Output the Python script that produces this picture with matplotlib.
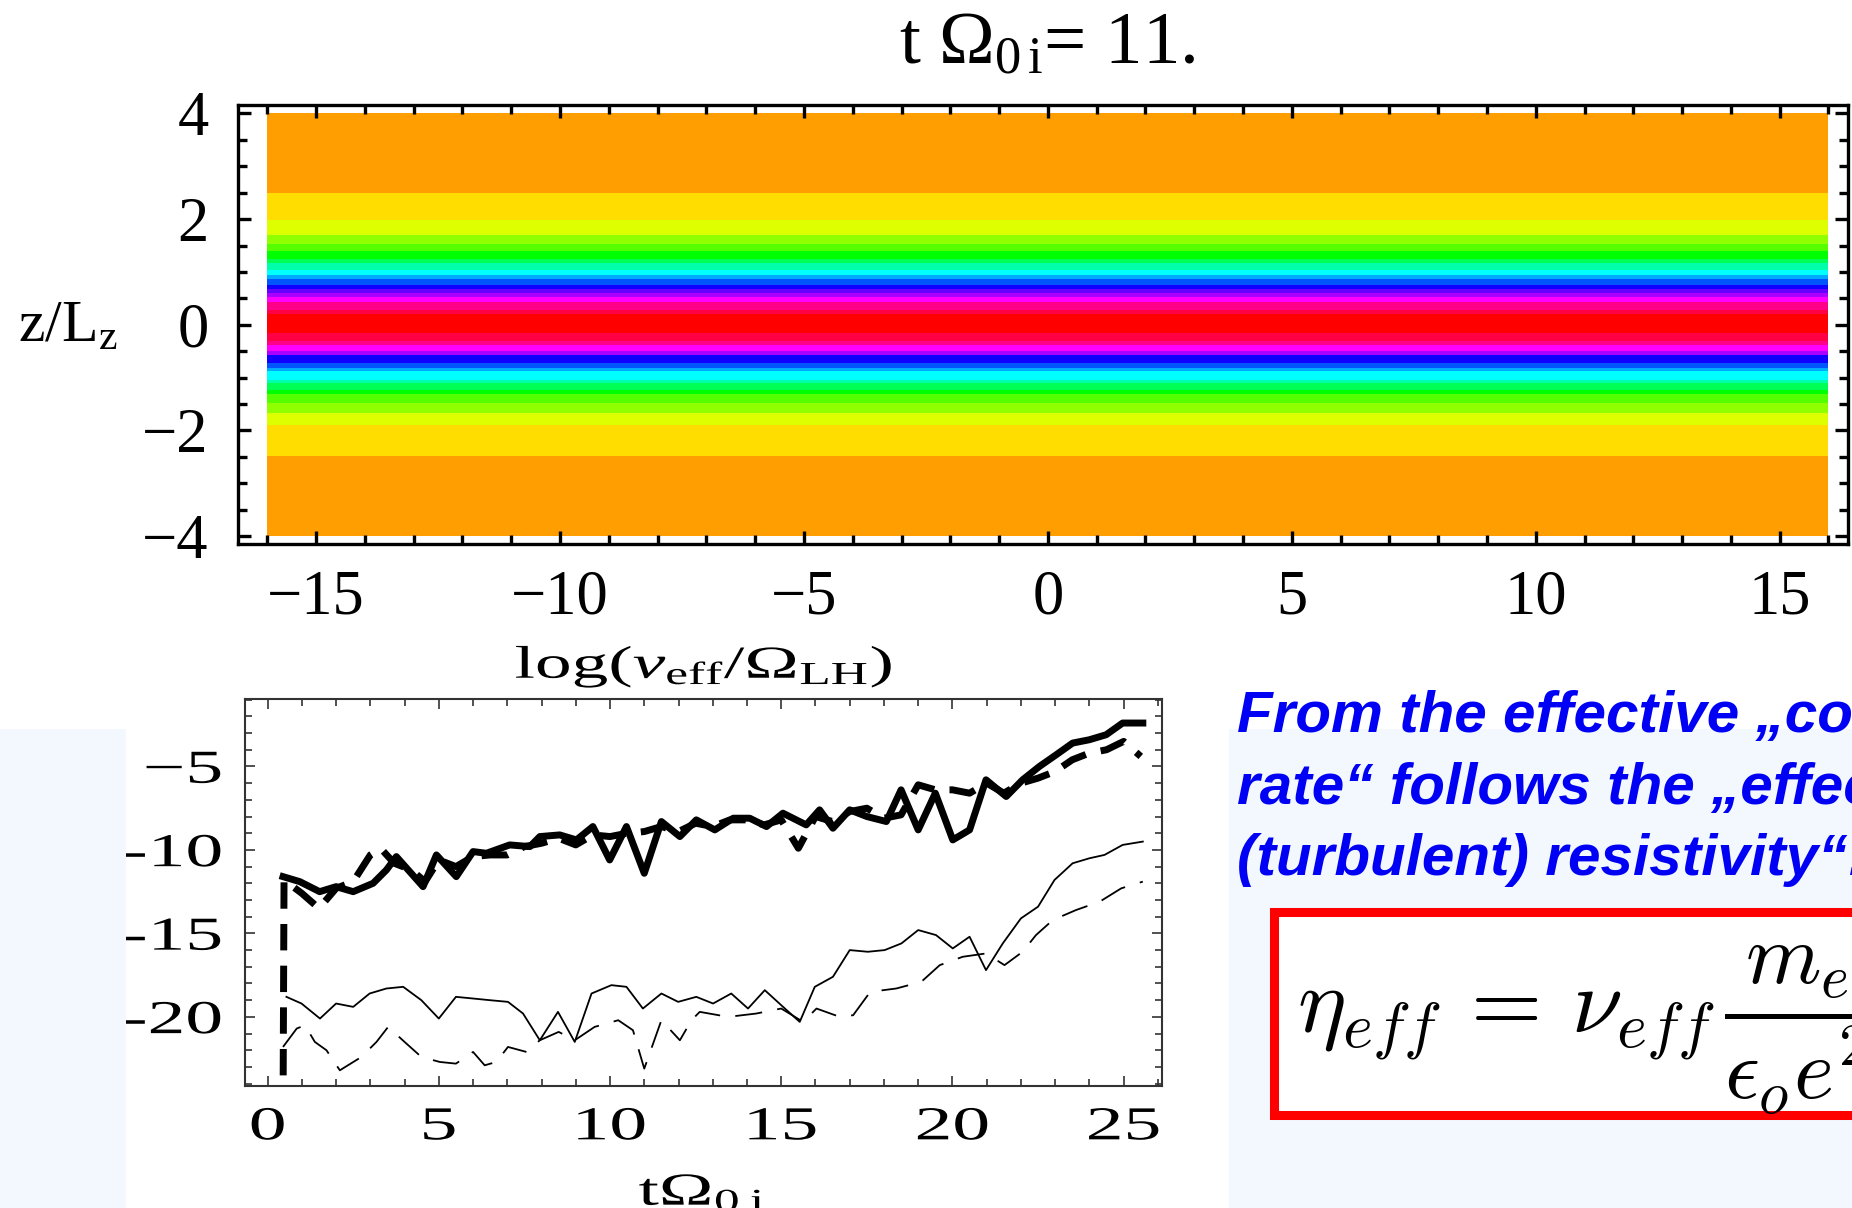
import matplotlib
matplotlib.use("Agg")
import matplotlib.pyplot as plt
import matplotlib.patheffects as pe
import numpy as np
from matplotlib.colors import ListedColormap
from matplotlib.patches import Rectangle
from matplotlib.path import Path
from matplotlib.transforms import Affine2D
from matplotlib.ticker import MultipleLocator

W, H = 1852, 1208

# top panel: z/L_z edges of the colour bands (bottom -> top) and their colours
band_edges = [-4.0, -2.49, -1.89, -1.67, -1.48, -1.32, -1.23, -1.10, -1.04, -0.88,
              -0.81, -0.72, -0.58, -0.50, -0.38, -0.31, -0.16, 0.21, 0.28, 0.44,
              0.52, 0.60, 0.67, 0.76, 0.87, 0.94, 1.04, 1.17, 1.25, 1.40,
              1.53, 1.69, 1.98, 2.50, 4.0]
band_colors = ["#FF9E00", "#FFDD00", "#DDFF00", "#90FF00", "#55FF00", "#00FF00",
               "#00FF55", "#00FFAA", "#00FFFF", "#00AAFF", "#0055FF", "#1100FF",
               "#AA00FF", "#FF00FF", "#FF0088", "#FF0044", "#FF0000", "#FF0044",
               "#FF0088", "#FF00FF", "#AA00FF", "#6600FF", "#1100FF", "#0055FF",
               "#00AAFF", "#00FFFF", "#00FFAA", "#00FF55", "#00FF00", "#55FF00",
               "#90FF00", "#DDFF00", "#FFDD00", "#FF9E00"]
log_range = [-16, 16]

# bottom panel: log(nu_eff / Omega_LH) versus t Omega_0i
thick_solid_t = [0.45, 0.94, 1.52, 2.0, 2.5, 3.08, 3.47, 3.76, 4.15, 4.54, 4.93, 5.51,
                 6.0, 6.39, 7.07, 7.66, 7.95, 8.53, 9.02, 9.5, 9.99, 10.48, 11.0, 11.5,
                 12.04, 12.52, 13.06, 13.6, 14.08, 14.57, 15.05, 15.73, 16.12, 16.51,
                 17.0, 17.5, 18.07, 18.5, 19.0, 19.5, 20.01, 20.5, 20.98, 21.57, 22.05,
                 22.54, 23.03, 23.51, 24.0, 24.49, 24.97, 25.56]
thick_solid_v = [-11.6, -11.9, -12.5, -12.2, -12.5, -12.0, -11.2, -10.4, -11.3, -12.2, -10.3, -11.6,
                 -10.1, -10.2, -9.7, -9.8, -9.2, -9.1, -9.4, -8.6, -10.6, -8.6, -11.4, -8.3,
                 -9.2, -8.2, -8.8, -8.1, -8.1, -8.6, -7.8, -8.5, -7.6, -8.7,
                 -7.6, -8.0, -8.3, -6.4, -8.8, -6.6, -9.4, -8.8, -5.8, -6.8, -5.8,
                 -5.0, -4.3, -3.6, -3.4, -3.1, -2.4, -2.4]

thick_dash_t = [0.45, 0.48, 1.0, 1.5, 2.0, 2.5, 3.0, 3.3, 3.7, 4.2, 4.6, 5.0, 5.5, 6.0,
                6.5, 7.0, 7.5, 8.0, 8.5, 9.0, 9.5, 10.0, 10.5, 11.0, 11.5, 12.0, 12.5,
                13.0, 13.5, 14.0, 14.5, 15.0, 15.5, 16.0, 16.5, 17.0, 17.5, 18.0, 18.5,
                19.0, 19.5, 20.0, 20.5, 21.0, 21.5, 22.0, 22.5, 23.0, 23.5, 24.0, 24.5,
                25.0, 25.5]
thick_dash_v = [-26.0, -11.8, -12.6, -13.5, -12.3, -11.9, -10.3, -9.9, -10.8, -11.2, -11.9, -10.6, -11.0, -10.4,
                -10.3, -10.3, -9.8, -9.6, -9.3, -9.7, -9.1, -9.2, -9.0, -8.9, -8.6, -8.9, -8.4,
                -8.6, -8.2, -8.2, -8.5, -8.2, -9.9, -8.0, -8.3, -7.7, -7.5, -8.1, -7.9,
                -6.1, -6.4, -6.4, -6.6, -6.0, -6.6, -6.0, -5.7, -5.3, -4.6, -4.2, -4.0,
                -3.5, -4.4]

thin_solid_t = [0.55, 0.99, 1.53, 2.0, 2.5, 2.98, 3.47, 3.96, 4.49, 5.0, 5.5, 6.0, 6.49,
                7.02, 7.46, 7.95, 8.48, 8.97, 9.46, 10.04, 10.48, 10.96, 11.5, 11.99, 12.52,
                13.01, 13.54, 14.03, 14.52, 15.0, 15.54, 15.98, 16.51, 17.0, 17.53, 18.02,
                18.51, 19.0, 19.52, 20.01, 20.5, 20.98, 21.47, 22.0, 22.5, 22.98, 23.51,
                24.0, 24.44, 24.97, 25.56]
thin_solid_v = [-18.8, -19.2, -20.1, -19.2, -19.4, -18.6, -18.3, -18.2, -19.0, -20.1, -18.8, -18.9, -19.0,
                -19.1, -19.8, -21.4, -19.7, -21.5, -18.6, -18.1, -18.2, -19.5, -18.6, -19.1, -18.8,
                -19.2, -18.6, -19.5, -18.4, -19.3, -20.3, -18.2, -17.6, -16.0, -16.1, -16.0,
                -15.6, -14.8, -15.1, -15.9, -15.2, -17.2, -15.6, -14.1, -13.4, -11.8, -10.8,
                -10.5, -10.3, -9.7, -9.5]

thin_dash_t = [0.45, 0.85, 1.09, 1.38, 1.72, 2.11, 2.74, 3.18, 3.52, 4.0, 4.49, 5.03, 5.5,
               6.0, 6.34, 6.68, 7.02, 7.56, 7.95, 8.5, 8.97, 9.55, 10.24, 10.67, 11.0, 11.5,
               12.04, 12.38, 12.62, 13.45, 14.27, 15.0, 15.64, 16.03, 16.71, 17.1, 17.6,
               18.36, 19.09, 19.63, 20.3, 20.98, 21.52, 22.05, 22.44, 22.93, 23.61, 24.3,
               24.93, 25.56]
thin_dash_v = [-21.8, -20.7, -20.5, -21.5, -22.0, -23.2, -22.4, -21.5, -20.6, -21.5, -22.4, -22.7, -22.8,
               -22.1, -22.9, -22.7, -21.8, -22.1, -21.4, -20.9, -21.4, -20.6, -20.2, -20.8, -23.1, -20.2,
               -21.4, -20.2, -19.7, -20.0, -19.8, -19.5, -20.3, -19.5, -20.0, -19.9, -18.5,
               -18.3, -17.9, -16.9, -16.4, -16.2, -16.9, -16.1, -15.1, -14.2, -13.6, -13.1,
               -12.3, -11.9]

t_ticks = [0, 5, 10, 15, 20, 25]
v_ticks = [-20, -15, -10, -5]
v_labels = ["-20", "-15", "-10", "\u22125"]

text_lines = ["From the effective \u201ecollision",
              "rate\u201c follows the \u201eeffective",
              "(turbulent) resistivity\u201c:"]


class HStretch(pe.AbstractPathEffect):
    # the lower graphic of the slide is a horizontally stretched bitmap
    def __init__(self, sx, anchor="center"):
        super().__init__()
        self.sx = sx
        self.anchor = anchor

    def draw_path(self, renderer, gc, tpath, affine, rgbFace=None):
        verts = tpath.vertices
        if tpath.codes is not None:
            verts = verts[tpath.codes != Path.CLOSEPOLY]
        xs = affine.transform(verts)[:, 0]
        if self.anchor == "right":
            x0 = xs.max()
        elif self.anchor == "left":
            x0 = xs.min()
        else:
            x0 = 0.5 * (xs.min() + xs.max())
        st = affine + Affine2D().translate(-x0, 0).scale(self.sx, 1).translate(x0, 0)
        renderer.draw_path(gc, tpath, st, rgbFace)


def fx(x):
    return x / W


def fy(y):
    return 1 - y / H


plt.rcParams['font.family'] = ['Liberation Serif', 'DejaVu Serif']
plt.rcParams['mathtext.fontset'] = 'custom'
plt.rcParams['mathtext.rm'] = 'Liberation Serif'
plt.rcParams['mathtext.it'] = 'Liberation Serif:italic'
plt.rcParams['mathtext.bf'] = 'Liberation Serif:bold'

fig = plt.figure(figsize=(W / 100, H / 100), dpi=100)
fig.patch.set_facecolor('white')

# light blue slide background behind the pictures
fig.patches.append(Rectangle((0, 0), fx(126), fy(729), transform=fig.transFigure,
                             fc='#F2F8FE', ec='none', zorder=0))
fig.patches.append(Rectangle((fx(1229), 0), 1, fy(729), transform=fig.transFigure,
                             fc='#F2F8FE', ec='none', zorder=0))

# ---------- top density plot ----------
ax1 = fig.add_axes([fx(238), fy(544), fx(1848) - fx(238), fy(105) - fy(544)])
C = np.arange(len(band_colors)).reshape(-1, 1)
ax1.pcolormesh(log_range, band_edges, C, cmap=ListedColormap(band_colors),
               vmin=-0.5, vmax=len(band_colors) - 0.5, shading='flat')
ax1.set_xlim(-16.6, 16.4)
ax1.set_ylim(-4.15, 4.16)
ax1.set_xticks([-15, -10, -5, 0, 5, 10, 15])
ax1.set_yticks([-4, -2, 0, 2, 4])
ax1.xaxis.set_minor_locator(MultipleLocator(1))
ax1.yaxis.set_minor_locator(MultipleLocator(0.5))
ax1.tick_params(which='both', direction='in', top=True, right=True, width=2.4, labelsize=45)
ax1.tick_params(which='major', length=9.5)
ax1.tick_params(which='minor', length=6.5)
ax1.tick_params(axis='x', pad=18)
ax1.tick_params(axis='y', pad=21)
for s in ax1.spines.values():
    s.set_linewidth(2.4)

fig.text(fx(1047), fy(63), r"t $\Omega_{0\,\mathrm{i}}$= 11.", fontsize=54,
         ha='center', va='baseline')
fig.text(fx(68), fy(342), r"z/L$_{\mathrm{z}}$", fontsize=43, ha='center', va='baseline')

# ---------- bottom line plot ----------
stretch_c = [HStretch(1.6, "center")]
ax2 = fig.add_axes([fx(245), fy(1086), fx(1162) - fx(245), fy(699) - fy(1086)])
ax2.plot(thick_solid_t, thick_solid_v, color='black', lw=5, solid_joinstyle='round')
ax2.plot(thick_dash_t, thick_dash_v, color='black', lw=5, dashes=(3.8, 2.2))
ax2.plot(thin_solid_t, thin_solid_v, color='black', lw=1.3)
ax2.plot(thin_dash_t, thin_dash_v, color='black', lw=1.3, dashes=(15, 8.5))
ax2.set_xlim(-0.66, 26.12)
ax2.set_ylim(-24.14, -0.96)
ax2.xaxis.set_minor_locator(MultipleLocator(1))
ax2.yaxis.set_minor_locator(MultipleLocator(1))
ax2.tick_params(which='both', direction='in', top=True, right=True, width=1.2,
                color='#333333', labelsize=34)
ax2.tick_params(which='major', length=7.5)
ax2.tick_params(which='minor', length=5)
ax2.tick_params(axis='x', pad=15)
ax2.tick_params(axis='y', pad=16.5)
ax2.set_xticks(t_ticks)
ax2.set_xticklabels([str(t) for t in t_ticks], path_effects=stretch_c)
ax2.set_yticks(v_ticks)
ax2.set_yticklabels(v_labels, path_effects=[HStretch(1.6, "right")])
for s in ax2.spines.values():
    s.set_linewidth(1.5)
    s.set_color('#333333')

fig.text(fx(704), fy(678), r"log($\nu_{\mathrm{eff}}/\Omega_{\mathrm{LH}}$)", fontsize=33,
         ha='center', va='baseline', path_effects=stretch_c)
fig.text(fx(702), fy(1205), r"t$\Omega_{0\;\mathrm{i}}$", fontsize=33,
         ha='center', va='baseline', path_effects=stretch_c)

# ---------- text and formula on the right ----------
for line, base in zip(text_lines, [732, 804, 875]):
    fig.text(fx(1237), fy(base), line, fontsize=42, color='#0000F5',
             family='Liberation Sans', weight='bold', style='italic',
             ha='left', va='baseline')

fig.patches.append(Rectangle((fx(1273.5), fy(1114.5)), 1, fy(911.5) - fy(1114.5),
                             transform=fig.transFigure, fc='white', ec='#FF0000',
                             lw=6.5, zorder=1))
fig.text(fx(1297), fy(1032), r"$\eta_{eff}\,=\,\nu_{eff}$",
         fontsize=66, math_fontfamily='cm', ha='left', va='baseline', zorder=3)
fig.text(fx(1724), fy(1032), r"$\dfrac{m_e}{\epsilon_o e^2}$",
         fontsize=62, math_fontfamily='cm', ha='left', va='baseline', zorder=3)

fig.savefig("out.png", dpi=100)
